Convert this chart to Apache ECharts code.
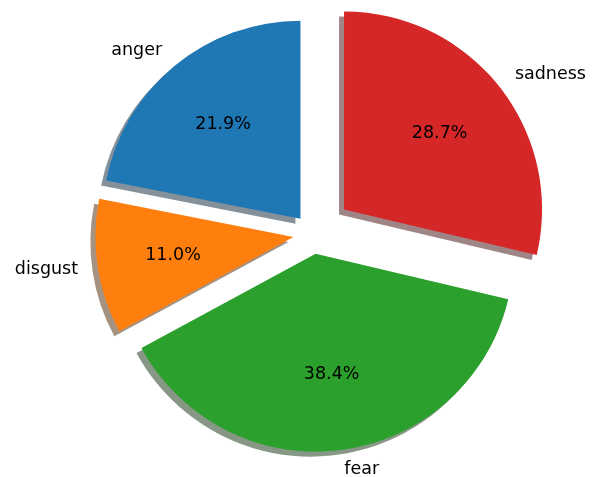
<!DOCTYPE html>
<html><head><meta charset="utf-8">
<script src="https://cdn.jsdelivr.net/npm/echarts@6/dist/echarts.min.js"></script>
<style>html,body{margin:0;padding:0;background:#fff}#c{width:600px;height:477px}</style>
</head><body><div id="c"></div>
<script>
const categories = ['anger', 'disgust', 'fear', 'sadness'];
const values = [21.9, 11.0, 38.4, 28.7];
const explode = [0.1, 0.1, 0.1, 0.2];
const colors = ['#1f77b4', '#ff7f0e', '#2ca02c', '#d62728'];

const R = 198, CX = 313, CY = 234;
const FONT = {fontFamily: 'DejaVu Sans', fontSize: 17.5, color: '#000', textBorderWidth: 0};
function shadowOf(hex) {
  const n = parseInt(hex.slice(1), 16);
  const r = (n >> 16) & 255, g = (n >> 8) & 255, b = n & 255;
  return 'rgba(' + Math.round(r * .3) + ',' + Math.round(g * .3) + ',' + Math.round(b * .3) + ',0.5)';
}
const clear = {color: 'rgba(0,0,0,0)', shadowColor: 'rgba(0,0,0,0)', borderWidth: 0};
const series = [];
categories.forEach(function (name, i) {
  function mk(labelOnly) {
    return values.map(function (v, j) {
      return {
        name: categories[j], value: v, selected: j === i,
        itemStyle: (j === i && !labelOnly) ? {
          color: colors[j], shadowColor: shadowOf(colors[j]), shadowBlur: 0,
          shadowOffsetX: -5, shadowOffsetY: 5, borderWidth: 0
        } : clear,
        label: {show: j === i}
      };
    });
  }
  const common = {
    type: 'pie', center: [CX, CY], startAngle: 90, clockwise: false,
    selectedMode: 'multiple', selectedOffset: explode[i] * R, silent: true,
    animation: false, avoidLabelOverlap: false, bleedMargin: 0,
    emphasis: {disabled: true},
    select: {itemStyle: {borderWidth: 0}},
    labelLine: {show: false, length: 0.1 * R, length2: 0}
  };
  series.push(Object.assign({}, common, {
    radius: R, z: 2,
    label: Object.assign({position: 'outside', formatter: '{b}', distanceToLabelLine: 0, overflow: 'none'}, FONT),
    data: mk(false)
  }));
  series.push(Object.assign({}, common, {
    radius: 1.2 * R, z: 3,
    label: Object.assign({position: 'inside', formatter: function (p) { return p.value.toFixed(1) + '%'; }}, FONT),
    data: mk(true)
  }));
});
const chart = echarts.init(document.getElementById('c'), null, {renderer: 'canvas'});
chart.setOption({backgroundColor: '#fff', animation: false, series: series});
</script></body></html>
